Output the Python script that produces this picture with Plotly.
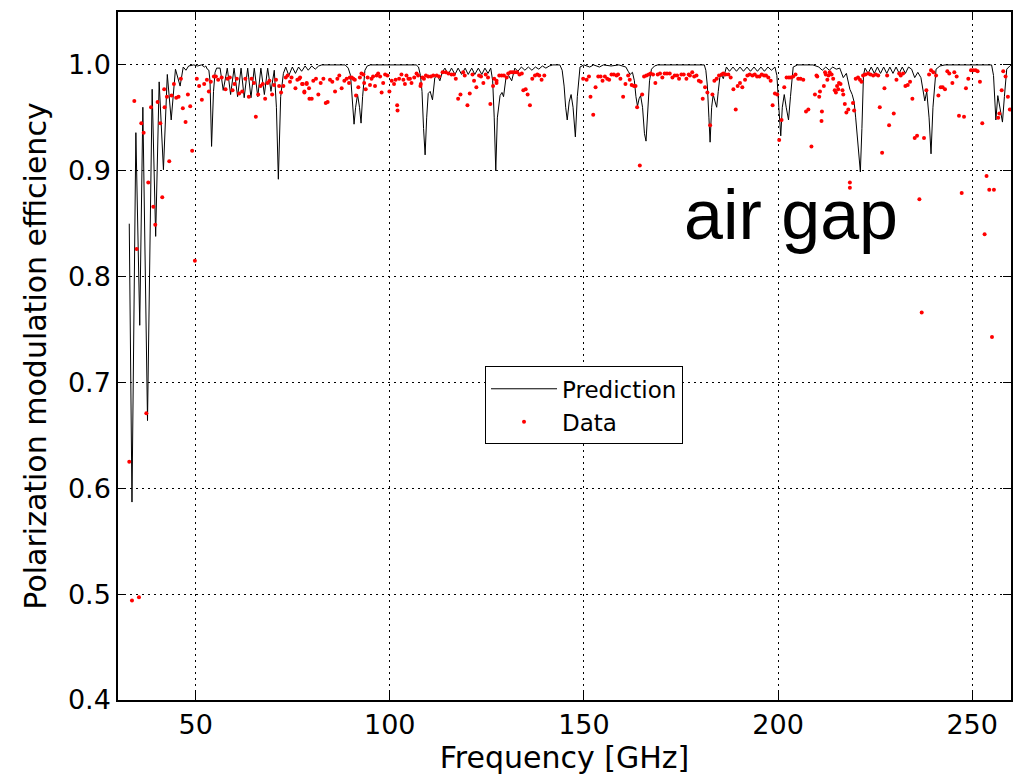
import plotly.graph_objects as go

# ---------------- Prediction curve ----------------
pred_freq = [
    32.9, 33.6, 34.6, 35.6, 36.4, 37.6, 38.8, 39.7, 40.6, 41.7, 42.7, 43.7, 44.8, 46.0, 46.8, 47.5,
    48.2, 49.5, 50.5, 51.5, 52.3, 52.6, 53.0, 53.4, 53.7, 54.1, 54.6, 55.0, 55.4,
    56.3, 57.1, 58.15, 59.0, 59.9, 60.8, 61.7, 62.5, 63.4, 64.25, 65.1, 66.0, 66.8, 67.7, 68.55, 69.4,
    70.25, 70.8, 71.3, 71.9, 72.6, 73.2, 74.0, 74.9, 75.7, 76.5, 77.3, 78.2, 79.0, 79.9, 80.8, 81.7,
    82.5, 88.5, 89.3, 89.9, 90.4, 90.8, 91.2, 91.7, 92.2, 92.6, 93.0, 93.6, 94.2, 95.0,
    106.8, 107.4, 107.9, 108.3, 108.7, 109.1, 109.5, 109.9, 110.4, 111.0, 111.6, 112.3, 112.9, 113.5,
    114.2, 115.05, 115.9, 116.8, 117.6, 118.5, 119.4, 120.2, 121.1, 121.9, 122.8, 123.7, 124.5, 125.3,
    126.0, 126.5, 126.9, 127.3, 127.7, 128.4, 128.9, 129.3, 129.9, 130.6, 131.4, 132.2, 133.0, 133.9,
    134.8, 135.7, 136.6, 137.5, 138.4, 139.3, 140.2, 141.1, 142.0, 143.8, 144.4, 144.9, 145.3, 145.7,
    146.2, 146.7, 147.2, 147.8, 148.3, 149.0, 150.0, 151.5, 152.5, 154.0, 155.0, 157.0, 159.0, 160.8,
    161.4, 161.9, 162.5, 163.0, 163.4, 163.8, 164.2, 164.6, 165.1, 165.6, 166.0, 166.4, 166.9, 167.4,
    168.2, 169.0, 181.0, 181.4, 181.8, 182.2, 182.5, 182.9, 183.3, 183.8, 184.2, 184.6, 185.0, 185.5,
    185.9, 186.7, 187.5, 188.4, 189.3, 190.2, 191.1, 192.0, 192.9, 193.8, 194.7, 195.6, 196.5, 197.4,
    198.3, 199.2, 199.7, 200.2, 200.7, 201.1, 201.6, 202.1, 202.7, 203.2, 203.9, 205.0, 209.0, 210.5,
    211.4, 212.3, 213.2, 214.1, 215.0, 215.9, 216.8, 217.6, 218.5, 219.1, 219.6, 220.0, 220.6, 221.2,
    221.6, 222.0, 222.4, 223.2, 224.0, 224.8, 225.6, 226.4, 227.2, 228.0, 228.8, 229.6, 230.4, 231.2,
    232.0, 232.8, 233.6, 234.4, 235.2, 236.0, 236.8, 237.4, 237.8, 238.3, 238.9, 239.4, 239.9, 240.7,
    241.7, 243.0, 255.0, 255.5, 255.8, 256.1, 256.6, 257.2, 257.8, 258.3, 258.9, 259.7, 260.0,
]
pred_eff = [
    0.850, 0.587, 0.936, 0.754, 0.960, 0.664, 0.977, 0.838, 0.984, 0.901, 0.991, 0.948, 0.996, 0.980, 0.998, 0.995,
    0.999, 1.000, 0.999, 1.000, 0.998, 0.999, 0.996, 0.995, 0.985, 0.923, 0.975, 0.993, 0.997,
    0.997, 0.976, 0.997, 0.972, 0.997, 0.970, 0.997, 0.969, 0.997, 0.969, 0.997, 0.970, 0.997, 0.972, 0.997, 0.975,
    0.995, 0.960, 0.892, 0.970, 0.992, 0.998, 0.990, 0.998, 0.992, 0.998, 0.994, 0.999, 0.995, 0.999, 0.996, 0.999,
    1.000, 1.000, 0.997, 0.990, 0.965, 0.944, 0.960, 0.972, 0.960, 0.945, 0.970, 0.995, 0.999, 1.000,
    1.000, 0.998, 0.990, 0.975, 0.940, 0.915, 0.950, 0.973, 0.975, 0.967, 0.988, 0.990, 0.985, 0.993,
    0.997, 0.991, 0.997, 0.991, 0.997, 0.991, 0.997, 0.991, 0.997, 0.991, 0.997, 0.991, 0.997, 0.992,
    0.997, 0.985, 0.950, 0.900, 0.950, 0.971, 0.974, 0.970, 0.987, 0.990, 0.985, 0.997, 0.994, 0.998,
    0.995, 0.998, 0.995, 0.998, 0.996, 0.999, 0.997, 0.999, 1.000, 1.000, 0.995, 0.980, 0.960, 0.948,
    0.965, 0.972, 0.960, 0.932, 0.970, 0.998, 1.000, 0.998, 1.000, 0.998, 1.000, 0.999, 1.000, 0.998,
    0.994, 0.991, 0.993, 0.985, 0.970, 0.961, 0.968, 0.971, 0.960, 0.935, 0.928, 0.950, 0.985, 0.996,
    0.999, 1.000, 1.000, 0.995, 0.980, 0.950, 0.927, 0.960, 0.972, 0.965, 0.960, 0.975, 0.988, 0.990,
    0.987, 0.998, 0.994, 0.998, 0.994, 0.998, 0.994, 0.998, 0.994, 0.998, 0.994, 0.998, 0.994, 0.998,
    0.995, 0.998, 0.990, 0.960, 0.933, 0.960, 0.972, 0.960, 0.948, 0.970, 0.998, 1.000, 1.000, 0.998,
    0.995, 0.998, 0.995, 0.998, 0.996, 0.997, 0.988, 0.992, 0.977, 0.972, 0.965, 0.950, 0.920, 0.899,
    0.940, 0.990, 0.997, 0.992, 0.998, 0.992, 0.998, 0.992, 0.998, 0.992, 0.998, 0.992, 0.998, 0.992,
    0.998, 0.992, 0.998, 0.996, 0.988, 0.993, 0.988, 0.975, 0.966, 0.975, 0.950, 0.916, 0.960, 0.996,
    0.999, 1.000, 1.000, 0.990, 0.970, 0.948, 0.971, 0.960, 0.946, 0.970, 0.996, 0.999, 1.000,
]

data_freq = [
    32.9, 33.6, 34.2, 34.8, 35.4, 36.0, 36.6, 37.3, 37.8, 38.5, 39.1, 39.6, 40.2, 40.9, 41.4, 41.9, 42.0,
    42.6, 43.2, 43.8, 44.4, 45.0, 45.6, 46.2, 46.7, 47.4, 48.0, 48.6, 49.1, 49.8, 50.3, 50.9, 51.6, 52.2,
    52.9, 53.4, 53.9,
    54.7, 55.2, 55.8, 56.7, 57.7, 58.2, 58.8, 59.5, 60.0, 60.6, 61.2, 62.0, 62.8, 63.7, 64.4, 65.0, 65.5,
    66.1, 66.7, 67.3, 67.9, 68.5, 69.0, 69.7, 70.2, 70.7, 71.5, 72.0, 72.6, 73.2, 73.7, 74.3, 74.7, 75.7,
    76.2, 76.7, 77.4, 78.0, 78.6, 79.3,
    76.9, 77.6, 78.0, 78.6, 79.2, 79.9, 80.3, 81.0, 81.6, 82.2, 82.9, 83.5, 84.0, 84.6, 85.2, 85.9, 86.5,
    87.0, 87.6, 88.3, 88.9, 89.5, 89.7, 90.2, 90.6, 91.0, 91.3, 91.9, 92.3, 92.7, 93.2, 93.4, 93.8, 94.3,
    94.9, 95.3, 95.7, 96.2, 96.6, 97.0, 97.5, 97.9, 98.3, 98.8, 99.4, 99.9, 100.5, 101.1, 101.5, 101.9,
    102.0, 102.4, 103.0, 103.5, 103.9, 104.3, 104.8, 105.2, 105.6, 106.3, 106.9, 107.3, 107.9, 108.0,
    108.4, 108.8, 109.3, 109.9, 110.6, 111.2, 112.1, 112.7, 113.6, 114.4, 115.1, 115.9, 116.5, 117.0,
    117.6, 118.2, 118.9, 119.3, 120.0, 120.6, 121.3, 121.7, 122.3, 123.0, 123.5, 124.1, 124.7, 125.3,
    125.9, 126.6, 127.5,
    126.9, 127.5, 128.2, 128.8, 129.4, 130.1, 130.5, 131.1, 131.6, 132.2, 132.8, 133.4, 134.0, 134.4,
    135.0, 135.5, 136.1, 136.7, 137.4, 138.0, 138.5, 139.1, 139.8, 149.8, 150.7, 151.3, 151.7, 152.4,
    153.0, 153.7, 154.3, 154.8, 155.4, 156.0, 156.5, 157.1, 157.7, 158.4, 158.8, 159.4, 160.1, 160.7,
    161.4, 161.8, 162.3, 162.9, 163.3, 163.7, 164.4, 165.0, 165.5, 166.1, 166.7, 167.2, 167.8, 168.4,
    169.0, 169.6, 170.2, 170.8, 171.4, 172.1, 172.8, 173.4, 174.0, 174.5, 175.1, 175.7, 176.4, 177.0,
    177.3, 177.9, 178.4, 179.0, 179.6, 180.1, 180.6, 181.2, 181.8, 182.5, 183.1, 183.6, 184.2, 184.8,
    185.5, 185.9, 186.5, 187.2, 187.8, 188.5, 189.1, 189.6, 190.2, 190.8, 191.5, 192.1, 192.7, 193.4,
    194.0, 194.6, 195.2, 195.8, 196.4, 196.9, 197.5, 198.1, 198.6, 199.2, 199.8, 200.3, 200.9, 201.6,
    202.2, 202.8, 203.3, 203.9, 204.5, 205.2, 205.8, 206.5, 207.2, 207.8, 208.6, 209.5, 209.9, 210.1,
    210.6, 210.8, 211.2, 211.3, 211.8, 212.1, 212.3, 212.7, 213.0, 213.3, 213.8, 214.2, 214.6, 214.9,
    215.2, 215.5, 215.7, 216.1, 216.6, 216.8, 217.2, 217.6, 218.1, 218.5, 218.5, 219.3, 219.6, 220.0,
    220.6, 221.1, 221.5, 221.9, 222.5, 223.2, 223.8, 224.5, 225.2, 225.8,
    226.2, 226.8, 227.4, 228.1, 228.6, 229.8, 230.5, 231.2, 231.6, 232.2, 232.8, 233.4, 234.0, 234.6,
    235.2, 235.8, 236.4, 237.6, 238.2, 238.9, 239.4, 240.0, 240.7, 241.3, 241.9, 242.4, 243.0, 243.6,
    244.1, 244.9, 245.4, 246.0, 246.6, 247.3, 247.9, 248.4, 249.0, 249.7, 250.3, 250.9, 251.4, 252.0,
    252.6, 253.7, 254.4, 255.6, 256.7, 257.0, 257.6, 258.0, 258.6, 259.2, 259.7, 253.2, 237.0, 255.1,
]
data_eff = [
    0.625, 0.494, 0.966, 0.826, 0.497, 0.945, 0.936, 0.671, 0.889, 0.960, 0.866, 0.849, 0.965, 0.945, 0.875, 0.977, 0.960,
    0.970, 0.909, 0.971, 0.982, 0.969, 0.970, 0.987, 0.959, 0.946, 0.972, 0.961, 0.919, 0.815, 0.987, 0.980, 0.967, 0.982,
    0.986, 0.975, 0.984,
    0.989, 0.989, 0.986, 0.988, 0.977, 0.987, 0.988, 0.976, 0.982, 0.987, 0.973, 0.975, 0.987, 0.970, 0.987, 0.983, 0.951,
    0.972, 0.980, 0.982, 0.968, 0.983, 0.985, 0.972, 0.981, 0.986, 0.980, 0.974, 0.980, 0.988, 0.990, 0.984, 0.988, 0.978,
    0.986, 0.987, 0.982, 0.974, 0.982, 0.968,
    0.988, 0.982, 0.975, 0.983, 0.978, 0.968, 0.985, 0.987, 0.972, 0.983, 0.987, 0.964, 0.965, 0.986, 0.984, 0.975, 0.987,
    0.990, 0.978, 0.985, 0.987, 0.983, 0.988, 0.988, 0.987, 0.986, 0.971, 0.979, 0.988, 0.992, 0.991, 0.983, 0.977, 0.988,
    0.981, 0.987, 0.989, 0.980, 0.990, 0.992, 0.989, 0.974, 0.983, 0.991, 0.990, 0.975, 0.985, 0.982, 0.986, 0.962,
    0.957, 0.987, 0.991, 0.986, 0.982, 0.990, 0.987, 0.987, 0.983, 0.988, 0.992, 0.990, 0.980, 0.982,
    0.988, 0.987, 0.990, 0.989, 0.989, 0.990, 0.990, 0.989, 0.993, 0.993, 0.992, 0.991, 0.991, 0.987,
    0.968, 0.972, 0.993, 0.990, 0.962, 0.973, 0.991, 0.985, 0.979, 0.990, 0.989, 0.983, 0.991, 0.988,
    0.963, 0.980, 0.983,
    0.987, 0.985, 0.990, 0.990, 0.990, 0.988, 0.992, 0.993, 0.993, 0.993, 0.993, 0.991, 0.992, 0.976,
    0.977, 0.972, 0.962, 0.987, 0.990, 0.991, 0.990, 0.986, 0.990, 0.987, 0.986, 0.989, 0.970, 0.953,
    0.979, 0.989, 0.989, 0.985, 0.989, 0.987, 0.986, 0.991, 0.991, 0.990, 0.991, 0.987, 0.970, 0.982,
    0.990, 0.986, 0.981, 0.980, 0.980, 0.960, 0.905, 0.972, 0.989, 0.990, 0.991, 0.992, 0.991, 0.983,
    0.991, 0.992, 0.988, 0.992, 0.992, 0.992, 0.988, 0.990, 0.990, 0.987, 0.991, 0.991, 0.987, 0.991,
    0.990, 0.993, 0.989, 0.990, 0.985, 0.984, 0.968, 0.979, 0.974, 0.943, 0.972, 0.985, 0.987, 0.990,
    0.991, 0.992, 0.991, 0.991, 0.988, 0.977, 0.958, 0.980, 0.983, 0.979, 0.986, 0.990, 0.991, 0.990,
    0.991, 0.989, 0.989, 0.991, 0.990, 0.990, 0.988, 0.985, 0.962, 0.973, 0.972, 0.929, 0.948, 0.979,
    0.988, 0.988, 0.988, 0.989, 0.991, 0.987, 0.987, 0.986, 0.956, 0.958, 0.923, 0.972, 0.990, 0.989,
    0.970, 0.975, 0.947, 0.956, 0.980, 0.993, 0.991, 0.986, 0.990, 0.993, 0.991, 0.987, 0.976, 0.974,
    0.980, 0.977, 0.983, 0.982, 0.976, 0.972, 0.963, 0.955, 0.958, 0.889, 0.884, 0.964, 0.957, 0.987,
    0.988, 0.986, 0.984, 0.990, 0.991, 0.992, 0.991, 0.990, 0.991, 0.990,
    0.960, 0.917, 0.978, 0.990, 0.943, 0.954, 0.986, 0.992, 0.990, 0.992, 0.980, 0.981, 0.984, 0.968,
    0.931, 0.933, 0.873, 0.931, 0.976, 0.991, 0.995, 0.993, 0.990, 0.971, 0.979, 0.979, 0.977, 0.994,
    0.992, 0.983, 0.993, 0.989, 0.952, 0.879, 0.951, 0.978, 0.987, 0.995, 0.995, 0.995, 0.994, 0.984,
    0.945, 0.895, 0.882, 0.882, 0.950, 0.954, 0.976, 0.994, 0.989, 0.970, 0.958, 0.840, 0.766, 0.743,
]

x_ticks = [50, 100, 150, 200, 250]
y_ticks = [0.4, 0.5, 0.6, 0.7, 0.8, 0.9, 1.0]

FONT = "DejaVu Sans"

fig = go.Figure()
fig.add_trace(go.Scatter(
    x=pred_freq, y=pred_eff, mode="lines", name="Prediction",
    line=dict(color="black", width=1),
))
fig.add_trace(go.Scatter(
    x=data_freq, y=data_eff, mode="markers", name="Data",
    marker=dict(color="red", size=4, line=dict(width=0)),
))

fig.add_annotation(
    x=203.3, y=0.858, xref="x", yref="y", text="air gap", showarrow=False,
    font=dict(family="Liberation Sans", size=70, color="black"),
    xanchor="center", yanchor="middle",
)

axis_common = dict(
    showline=True, linecolor="black", linewidth=1.5, mirror="ticks",
    ticks="inside", ticklen=8, tickwidth=1, tickcolor="black",
    showgrid=True, gridcolor="black", gridwidth=1, griddash="1.5px,4.5px",
    zeroline=False, tickfont=dict(family=FONT, size=27, color="black"),
)

fig.update_xaxes(
    range=[30, 260], tickvals=x_ticks,
    title=dict(text="Frequency [GHz]", font=dict(family=FONT, size=30, color="black"), standoff=4),
    **axis_common,
)
fig.update_yaxes(
    range=[0.4, 1.05], tickvals=y_ticks, tickformat=".1f",
    title=dict(text="Polarization modulation efficiency", font=dict(family=FONT, size=30, color="black"), standoff=12),
    **axis_common,
)

fig.update_layout(
    width=1027, height=776,
    margin=dict(l=118, r=16, t=10, b=76),
    paper_bgcolor="white", plot_bgcolor="white",
    font=dict(family=FONT, color="black"),
    legend=dict(
        x=0.411, y=0.485, xanchor="left", yanchor="top",
        bordercolor="black", borderwidth=1, bgcolor="white",
        font=dict(family=FONT, size=23, color="black"),
        itemwidth=66,
    ),
    showlegend=True,
)

fig.write_html("out.html")
